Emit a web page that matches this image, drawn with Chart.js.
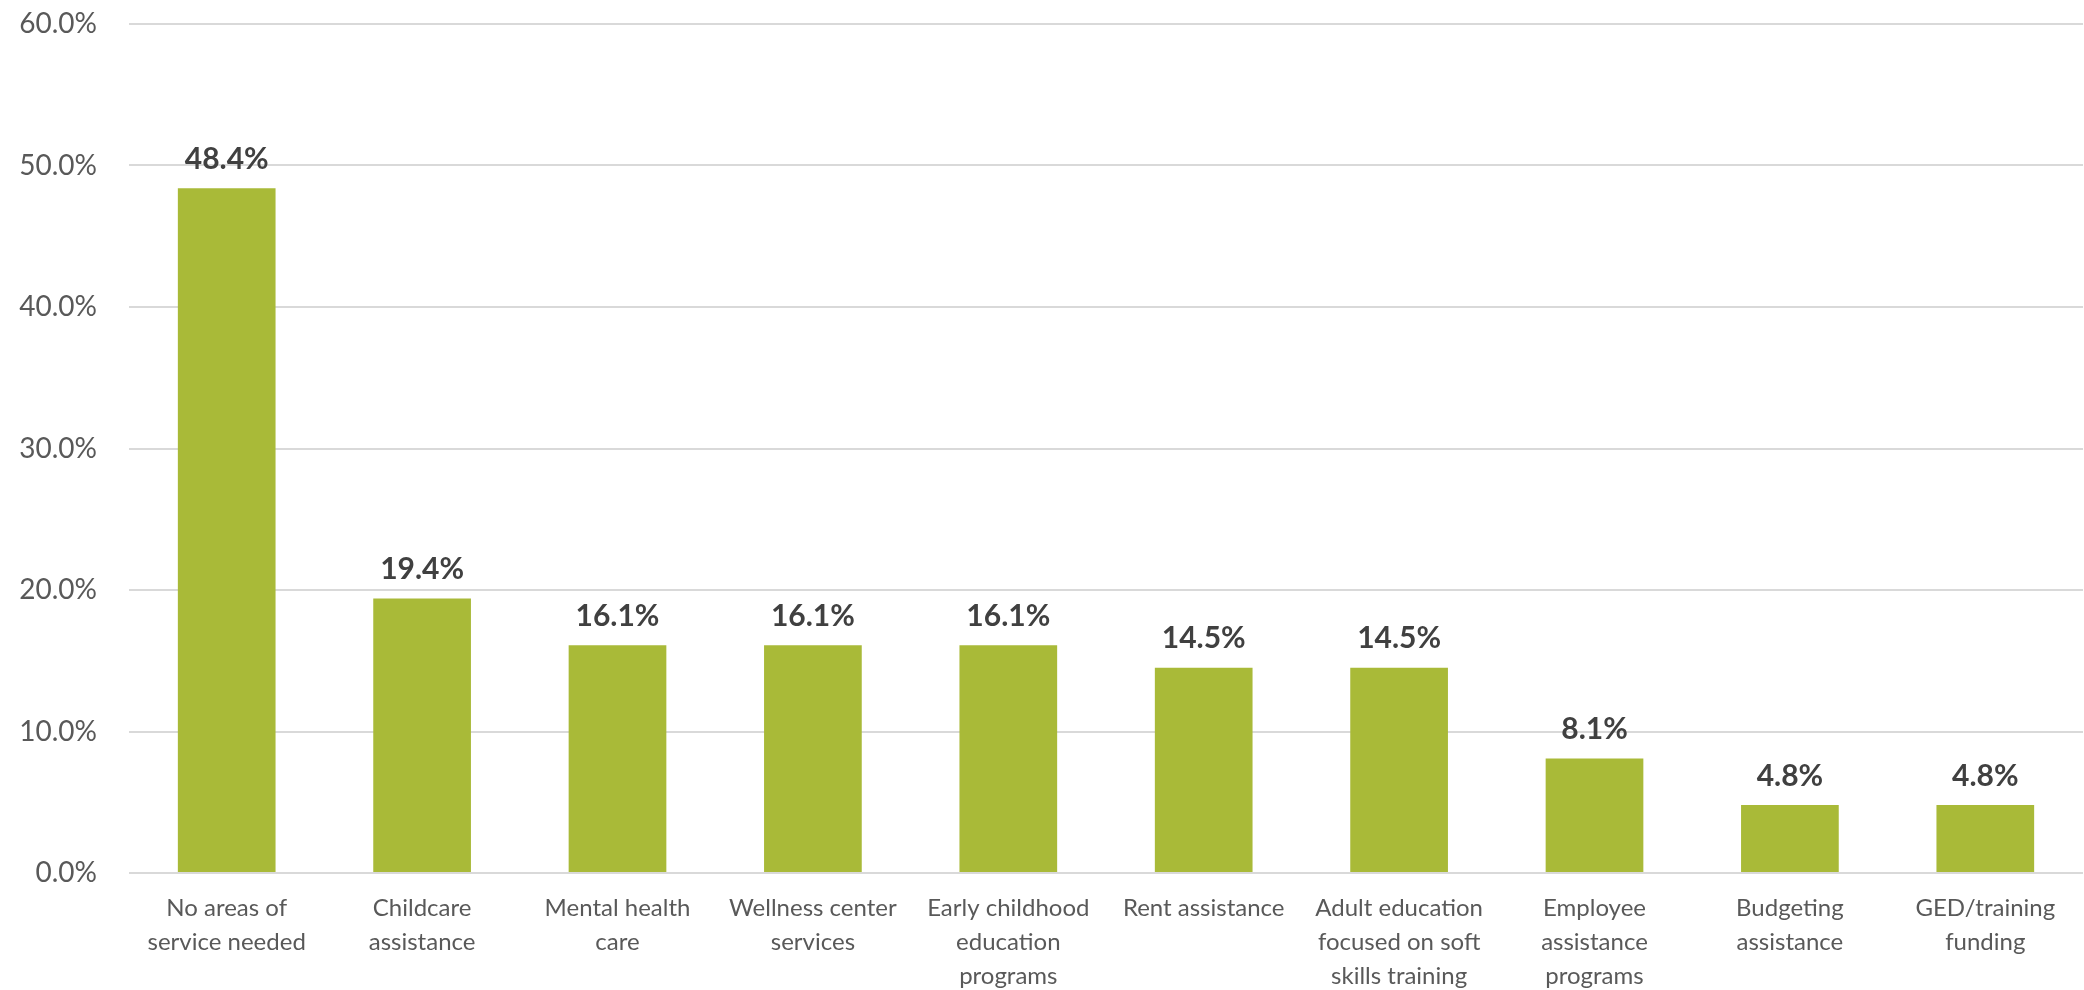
<!DOCTYPE html>
<html>
<head>
<meta charset="utf-8">
<script src="https://cdn.jsdelivr.net/npm/chart.js@4.4.1/dist/chart.umd.min.js"></script>
<style>
  html, body { margin: 0; padding: 0; background: #fff; }
  #wrap { width: 2084px; height: 990px; position: relative; }
</style>
</head>
<body>
<div id="wrap"><canvas id="chart"></canvas></div>
<script>
// categories (wrapped as in the original)
const categories = [
    ['No areas of', 'service needed'],
    ['Childcare', 'assistance'],
    ['Mental health', 'care'],
    ['Wellness center', 'services'],
    ['Early childhood', 'education', 'programs'],
    ['Rent assistance'],
    ['Adult education', 'focused on soft', 'skills training'],
    ['Employee', 'assistance', 'programs'],
    ['Budgeting', 'assistance'],
    ['GED/training', 'funding']
];
const values = [48.4, 19.4, 16.1, 16.1, 16.1, 14.5, 14.5, 8.1, 4.8, 4.8];
const yTicks = [0, 10, 20, 30, 40, 50, 60];

const FONT = 'Lato, "Source Sans Pro", "Noto Sans", sans-serif';

// value labels above bars
const barLabels = {
    id: 'barLabels',
    afterDatasetsDraw(chart) {
        const ctx = chart.ctx;
        const meta = chart.getDatasetMeta(0);
        ctx.save();
        ctx.font = 'bold 30px ' + FONT;
        ctx.fillStyle = '#404040';
        ctx.textAlign = 'center';
        ctx.textBaseline = 'bottom';
        meta.data.forEach((bar, i) => {
            ctx.fillText(values[i].toFixed(1) + '%', bar.x, bar.y - 14);
        });
        ctx.restore();
    }
};

new Chart(document.getElementById('chart'), {
    type: 'bar',
    data: {
        labels: categories,
        datasets: [{
            data: values,
            backgroundColor: '#a9ba38',
            borderWidth: 0,
            barPercentage: 0.5,
            categoryPercentage: 1
        }]
    },
    options: {
        responsive: true,
        maintainAspectRatio: false,
        animation: false,
        layout: { padding: { top: 0, right: 1, left: 0, bottom: 0 } },
        plugins: { legend: { display: false }, tooltip: { enabled: false } },
        scales: {
            x: {
                grid: { display: false },
                border: { display: false },
                ticks: {
                    color: '#595959',
                    font: { family: FONT, size: 24, lineHeight: 1.42 },
                    padding: 10,
                    maxRotation: 0,
                    autoSkip: false
                },
                afterFit: s => { s.height = 117; }
            },
            y: {
                min: 0,
                max: 60,
                afterBuildTicks: s => { s.ticks = yTicks.map(v => ({ value: v })); },
                grid: { color: '#d9d9d9', lineWidth: 2, drawTicks: false },
                border: { display: false },
                ticks: {
                    color: '#595959',
                    font: { family: FONT, size: 28 },
                    padding: 32,
                    callback: v => v.toFixed(1) + '%'
                },
                afterFit: s => {
                    s.width = 129;
                    s.paddingTop = 24;
                    s.paddingBottom = 0;
                }
            }
        }
    },
    plugins: [barLabels]
});
</script>
</body>
</html>
